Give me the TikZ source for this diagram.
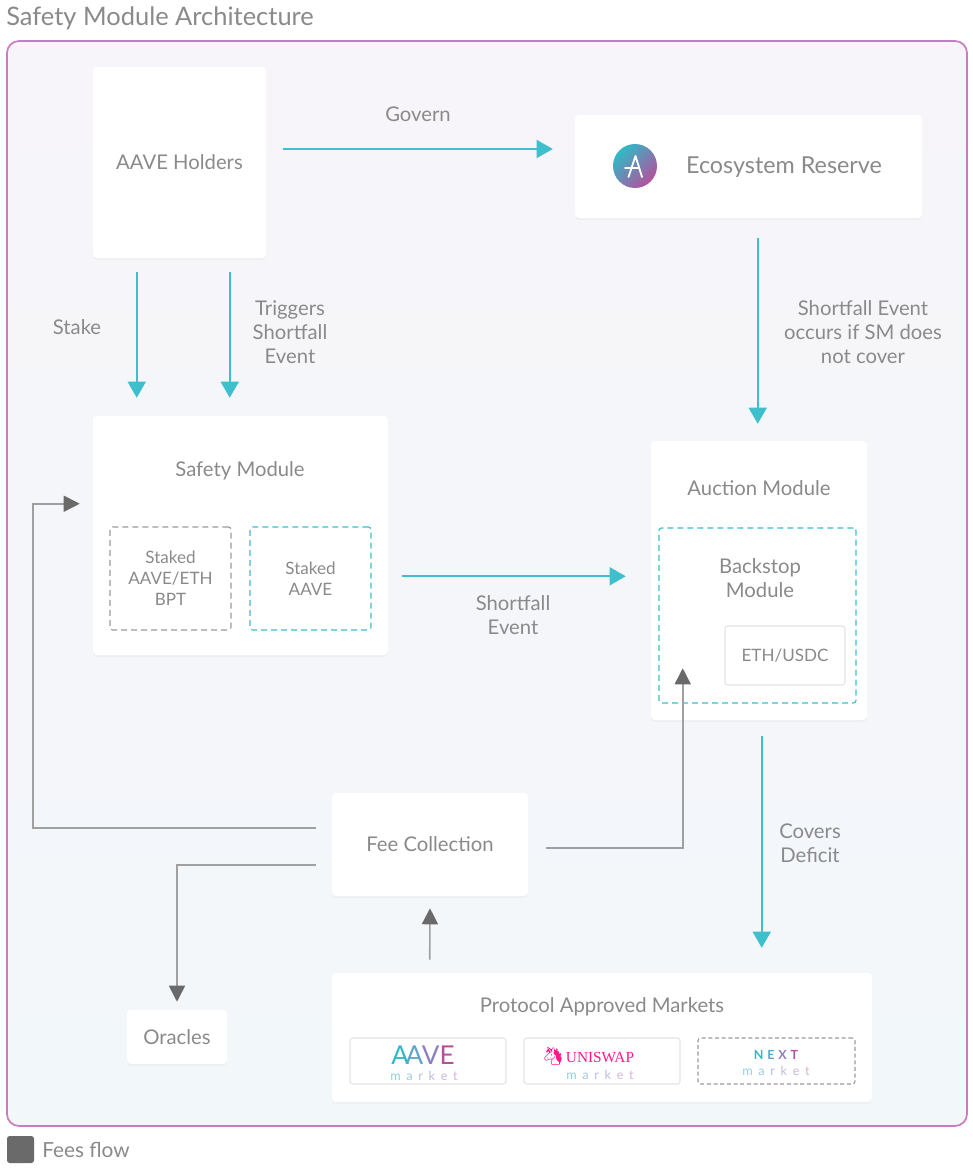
\documentclass[tikz,border=0pt]{standalone}
\usepackage{fontspec}
\setmainfont{Lato}
\newfontfamily\emojifont{Noto Emoji}
\newfontfamily\uniserif{Liberation Serif}
\usetikzlibrary{arrows.meta,calc,fit,shadows}
\definecolor{txtgray}{HTML}{8A8A8A}
\definecolor{cyanline}{HTML}{3DBFCC}
\definecolor{feegray}{HTML}{A0A0A0}
\definecolor{feehead}{HTML}{6A6A6A}
\definecolor{framecol}{HTML}{C97DBE}
\definecolor{bgA}{HTML}{F2F7FA}
\definecolor{bgB}{HTML}{F7F5F9}
\definecolor{mbord}{HTML}{E4E4E6}
\definecolor{dashgray}{HTML}{9A9A9A}
\definecolor{logocyan}{HTML}{2EBAC6}
\definecolor{logoblue}{HTML}{5FA5C8}
\definecolor{logoviolet}{HTML}{8C7FC0}
\definecolor{logopurple}{HTML}{B6509E}
\definecolor{unipink}{HTML}{FF1A8C}
\definecolor{mA}{HTML}{8ED3DC}
\definecolor{mB}{HTML}{9CCCE0}
\definecolor{mC}{HTML}{ACC4E0}
\definecolor{mD}{HTML}{BDBDE0}
\definecolor{mE}{HTML}{CDB6DC}
\definecolor{mF}{HTML}{DDB0D8}
\newcommand\mkword{\textcolor{mA}{m}\hspace{0.45em}\textcolor{mB}{a}\hspace{0.45em}\textcolor{mC}{r}\hspace{0.45em}\textcolor{mD}{k}\hspace{0.45em}\textcolor{mE}{e}\hspace{0.45em}\textcolor{mF}{t}}
\tikzset{
  card/.style={fill=white, rounded corners=3pt, inner sep=0pt,
    drop shadow={shadow xshift=0pt, shadow yshift=-1.5pt, opacity=0.05}},
  chip/.style={fill=white, draw=mbord, line width=0.8pt, rounded corners=2pt, inner sep=0pt},
  dashbox/.style={draw=#1, line width=0.9pt, dash pattern=on 4.5pt off 3pt, rounded corners=2pt,
    inner sep=0pt},
  lbl/.style={text=txtgray, align=center, inner sep=0pt, font=\fontsize{15.2}{18}\selectfont},
  smalllbl/.style={text=txtgray, align=center, inner sep=0pt, font=\fontsize{12.8}{15.75}\selectfont},
  flow/.style={draw=cyanline, line width=1.2pt, -{Triangle[length=12pt,width=13.5pt]}},
  feeflow/.style={draw=feegray, line width=1.2pt,
    -{Triangle[length=12pt,width=12pt,color=feehead,fill=feehead]}},
}
\begin{document}
\begin{tikzpicture}[x=0.75pt,y=-0.75pt]
\useasboundingbox (0,0) rectangle (972,1174);
\fill[white] (0,0) rectangle (972,1174);

% title
\node[anchor=base west, inner sep=0pt, text=txtgray, font=\fontsize{19.1}{22}\selectfont] (title) at (6,25) {Safety Module Architecture};

% container
\node[fit={(7,41)(967,1126)}, inner sep=0pt, rounded corners=9pt, top color=bgB, bottom color=bgA,
      draw=framecol, line width=1.3pt] (frame) {};

% cards
\node[card, fit={(93,67)(266,258)}] (holders) {};
\node[lbl] (holderstext) at (holders.center) {AAVE Holders};
\node[card, fit={(575,115)(922,218)}] (eco) {};
\node[lbl, font=\fontsize{17.5}{20}\selectfont] (ecotext) at (784,167) {Ecosystem Reserve};
\begin{scope}[shift={(635,166)}, x=0.75pt, y=0.75pt]
  \shade[left color=logocyan, right color=logopurple, shading angle=45] (0,0) circle (22);
  \draw[white, line width=1.4pt, line cap=round, line join=round] (-6.5,-11) -- (0.5,10) -- (7,-11);
  \draw[white, line width=1.4pt, line cap=round] (-10,-2) -- (4,-2);
\end{scope}

\node[card, fit={(93,416)(388,655)}] (sm) {};
\node[lbl] (smtitle) at (240,471) {Safety Module};
\node[dashbox=dashgray, fit={(110,527)(231,630)}] (bpt) {};
\node[smalllbl] (bpttext) at (bpt.center) {Staked\\AAVE/ETH\\BPT};
\node[dashbox=cyanline, fit={(250,527)(371,630)}] (staave) {};
\node[smalllbl] (staavetext) at (staave.center) {Staked\\AAVE};

\node[card, fit={(651,441)(867,720)}] (auction) {};
\node[lbl] (auctitle) at (759,488) {Auction Module};
\node[dashbox=cyanline, fit={(659,528)(856,703)}] (backstop) {};
\node[lbl] (bstext) at (760,578) {Backstop\\Module};
\node[chip, fit={(725,626)(845,685)}] (ethusdc) {};
\node[smalllbl] (ethusdctext) at (ethusdc.center) {ETH/USDC};

\node[card, fit={(332,793)(528,896)}] (fee) {};
\node[lbl] (feetext) at (fee.center) {Fee Collection};
\node[card, fit={(127,1010)(227,1064)}] (oracles) {};
\node[lbl] (oraclestext) at (oracles.center) {Oracles};

\node[card, fit={(332,973)(872,1102)}] (markets) {};
\node[lbl] (mktitle) at (602,1007) {Protocol Approved Markets};
\node[chip, fit={(350,1038)(506,1084)}] (mkaave) {};
\node[chip, fit={(524,1038)(680,1084)}] (mkuni) {};
\node[chip, draw=dashgray, dash pattern=on 3pt off 2pt, fit={(698,1038)(855,1084)}] (mknext) {};
% market logos
\node[inner sep=0pt, font=\fontsize{19.5}{22}\selectfont] (aavelogo) at (423,1055)
  {\textcolor{logocyan}{A}\kern-2.5pt\textcolor{logoblue}{A}\kern-1pt\textcolor{logoviolet}{V}\textcolor{logopurple}{E}};
\node[inner sep=0pt, font=\fontsize{9.5}{10}\selectfont] (aavemk) at (424,1076) {\mkword};
\node[inner sep=0pt, text=unipink, font=\emojifont\fontsize{13}{14}\selectfont] (unicorn) at (553,1056) {🦄};
\node[inner sep=0pt, text=unipink, font=\uniserif\fontsize{11.5}{12}\selectfont] (unitext) at (600,1058) {UNISWAP};
\node[inner sep=0pt, font=\fontsize{9.5}{10}\selectfont] (unimk) at (600,1075) {\mkword};
\node[inner sep=0pt, font=\bfseries\fontsize{9.4}{10}\selectfont] (nexttext) at (776,1055)
  {\textcolor{logocyan}{N}\hspace{0.3em}\textcolor{logoblue}{E}\hspace{0.3em}\textcolor{logoviolet}{X}\hspace{0.3em}\textcolor{logopurple}{T}};
\node[inner sep=0pt, font=\fontsize{9.5}{10}\selectfont] (nextmk) at (776,1071) {\mkword};

% legend
\node[fit={(7,1136)(34,1163)}, inner sep=0pt, fill=feehead, rounded corners=2pt] (legsq) {};
\node[anchor=base west, inner sep=0pt, text=txtgray, font=\fontsize{15.6}{18}\selectfont] (legtext) at (42,1157) {Fees flow};

% cyan connectors
\draw[flow] ($(holders.east)+(17,-13.5)$) -- ($(eco.west)+(-22,-17.5)$);
\node[lbl] (lgovern) at (418,114) {Govern};
\draw[flow] ($(holders.south west)+(44,14)$) -- ($(sm.north west)+(44,-18)$);
\node[lbl] (lstake) at (77,327) {Stake};
\draw[flow] ($(holders.south west)+(137,14)$) -- ($(sm.north west)+(137,-18)$);
\node[lbl] (ltrig) at (290,332) {Triggers\\Shortfall\\Event};
\draw[flow] ($(eco.south west)+(183,20)$) -- ($(auction.north west)+(107,-17)$);
\node[lbl] (lsfocc) at (863,332) {Shortfall Event\\occurs if SM does\\not cover};
\draw[flow] ($(sm.south east)+(14,-79)$) -- ($(auction.south west)+(-25,-144)$);
\node[lbl] (lsf) at (513,615) {Shortfall\\Event};
\draw[flow] ($(auction.south west)+(111,16)$) -- ($(markets.north west)+(430,-25)$);
\node[lbl] (lcover) at (810,843) {Covers\\Deficit};

% fee connectors
\coordinate (fsm1) at ($(fee.north west)+(-16,35)$);
\coordinate (fsm2) at ($(sm.north west)+(-60,88)$);
\draw[feeflow] (fsm1) -| (fsm2) -- ($(sm.north west)+(-13,88)$);
\draw[feeflow] ($(fee.north west)+(-16,72)$) -| ($(oracles.north)+(0,-8)$);
\draw[feeflow] ($(fee.north east)+(18,55)$) -| ($(auction.south west)+(32,-52)$);
\draw[feeflow] ($(markets.north west)+(98,-13)$) -- ($(fee.south)+(0,12)$);
\end{tikzpicture}
\end{document}
